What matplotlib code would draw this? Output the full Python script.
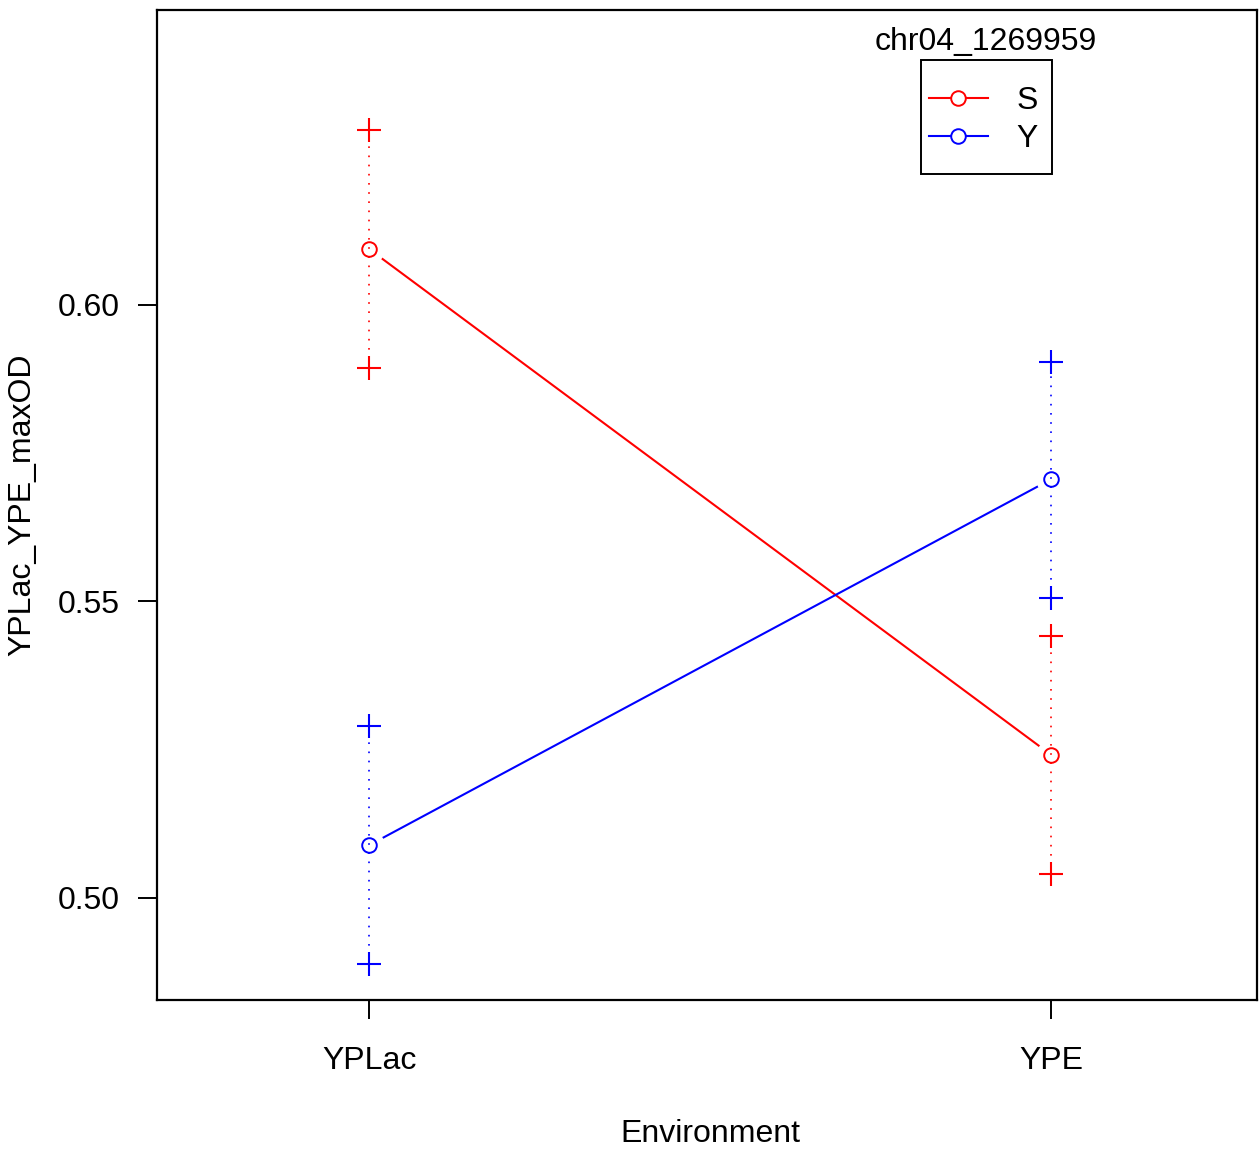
import matplotlib
matplotlib.use("Agg")
import matplotlib.pyplot as plt
from matplotlib.lines import Line2D
from matplotlib.patches import Rectangle

plt.rcParams['font.family'] = ['Liberation Sans', 'DejaVu Sans']

environments = ["YPLac", "YPE"]
genotypes = ["S", "Y"]
colors = ["red", "blue"]
means = {"S": [0.6094, 0.5241], "Y": [0.5089, 0.5706]}
upper = {"S": [0.6295, 0.5442], "Y": [0.5290, 0.5904]}
lower = {"S": [0.5894, 0.5040], "Y": [0.4889, 0.5505]}
yticks = [0.50, 0.55, 0.60]
ytick_labels = ["0.50", "0.55", "0.60"]
legend_title = "chr04_1269959"

W, H = 1259, 1151
fig = plt.figure(figsize=(W / 100, H / 100), dpi=100)
ax = fig.add_axes([157 / W, 1 - 1000 / H, 1100 / W, 990 / H])

FS = 23
xs = [1, 2]
for g, c in zip(genotypes, colors):
    ax.plot(xs, means[g], color=c, lw=1.5, zorder=1)
    ax.plot(xs, means[g], ls='none', marker='o', ms=22, mfc='white', mec='none', zorder=2)
    for i, x in enumerate(xs):
        ax.plot([x, x], [lower[g][i], upper[g][i]], color=c, lw=1.2,
                linestyle=(0, (1, 4.5)), zorder=3)
    ax.plot(xs, upper[g], ls='none', marker='+', ms=17, mew=1.5, color=c, zorder=3)
    ax.plot(xs, lower[g], ls='none', marker='+', ms=17, mew=1.5, color=c, zorder=3)
    ax.plot(xs, means[g], ls='none', marker='o', ms=10.5, mfc='none', mec=c, mew=1.4, zorder=4)

ax.set_xlim(0.689, 2.3015)
ax.set_ylim(0.4828, 0.6497)
ax.set_xticks(xs)
ax.set_xticklabels(environments, fontsize=FS)
ax.set_yticks(yticks)
ax.set_yticklabels(ytick_labels, fontsize=FS)
ax.tick_params(axis='both', direction='out', length=14, width=1.4, colors='black')
ax.tick_params(axis='y', pad=13)
ax.tick_params(axis='x', pad=19)
for s in ax.spines.values():
    s.set_linewidth(1.6)

ax.set_xlabel("Environment", fontsize=FS)
ax.set_ylabel("YPLac_YPE_maxOD", fontsize=FS)
ax.xaxis.label.set_va('center')
ax.yaxis.label.set_va('center')
ax.xaxis.set_label_coords((710 - 157) / 1100, -(1134 - 1000) / 990)
ax.yaxis.set_label_coords((22 - 157) / 1100, 0.5)

# manual legend in figure pixel coordinates
def px(x, y):
    return (x / W, 1 - y / H)

ft = fig.transFigure
x0, y0 = px(921, 174)
x1, y1 = px(1052, 60)
fig.patches.append(Rectangle((x0, y0), x1 - x0, y1 - y0, transform=ft,
                             fill=False, edgecolor='black', lw=1.4))
fig.text(*px(986, 42), legend_title, fontsize=FS, ha='center', va='center')
for g, c, yy in zip(genotypes, colors, [98, 136]):
    xa, ya = px(929, yy)
    xb, _ = px(988, yy)
    xm, _ = px(958, yy)
    fig.add_artist(Line2D([xa, xb], [ya, ya], transform=ft, color=c, lw=1.5))
    fig.add_artist(Line2D([xm], [ya], transform=ft, ls='none', marker='o', ms=10.5,
                          mfc='white', mec=c, mew=1.4))
    fig.text(*px(1027, yy + 3), g, fontsize=FS, ha='center', va='center')

fig.savefig("out.png", dpi=100)
